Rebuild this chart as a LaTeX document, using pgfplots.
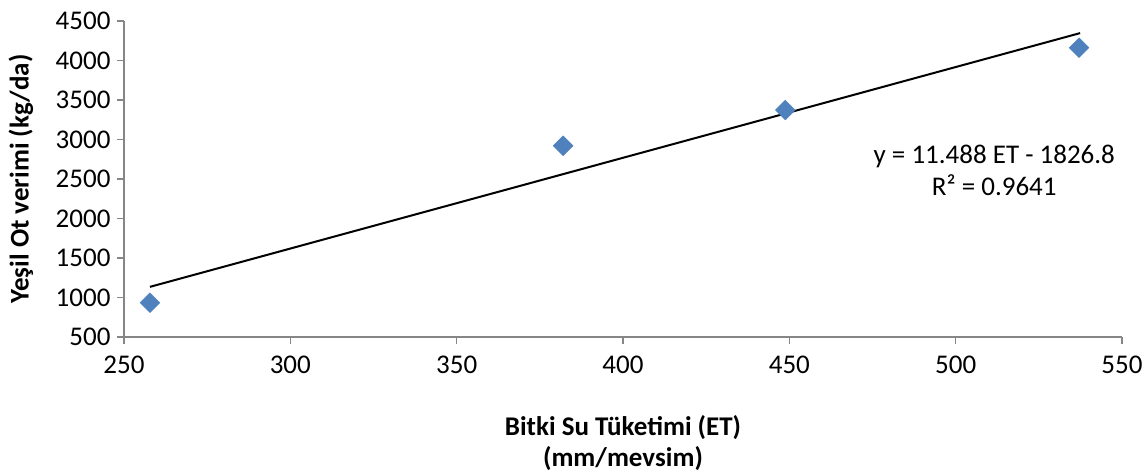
\documentclass[border=0pt]{standalone}
\usepackage{pgfplots}
\pgfplotsset{compat=1.18}
\usepackage{fontspec}
\setmainfont{Carlito}
\definecolor{axgray}{HTML}{868686}
\definecolor{ptblue}{HTML}{4F81BD}
\begin{document}
\begin{tikzpicture}[x=1pt,y=1pt]
\useasboundingbox (-124,-137) rectangle (1023,337);
\begin{axis}[
  at={(0,0)}, anchor=south west,
  scale only axis, width=998pt, height=316pt,
  xmin=250, xmax=550, ymin=500, ymax=4500,
  xtick={250,300,...,550}, ytick={500,1000,...,4500},
  axis x line=bottom, axis y line=left,
  axis line style={-, axgray, line width=1.3pt},
  tick style={axgray, line width=1.3pt},
  tick align=outside, major tick length=7pt,
  /pgf/number format/assume math mode=true,
  /pgf/number format/1000 sep={},
  ticklabel style={font=\fontsize{27}{31}\selectfont},
  xticklabel style={yshift=-8pt},
  yticklabel style={xshift=-3pt},
  every axis y label/.style={at={(axis description cs:-0.1032,0.5)},rotate=90,anchor=center,font=\bfseries\fontsize{27}{31}\selectfont},
  every axis x label/.style={at={(axis description cs:0.5,-0.337)},anchor=center,align=center,font=\bfseries\fontsize{27}{31}\selectfont},
  xlabel={Bitki Su Tüketimi (ET)\\(mm/mevsim)},
  ylabel={Yeşil Ot verimi (kg/da)},
  clip=false,
]
\addplot[only marks, mark=square*, mark size=7pt, mark options={rotate=45, fill=ptblue, draw=ptblue}]
  coordinates {(257.8,934) (382.0,2921) (448.8,3373) (537.1,4162)};
\addplot[black, line width=2pt, mark=none]
  coordinates {(257.8,1134.8) (537.4,4346.8)};
\node[align=center, font=\fontsize{27}{32}\selectfont] at (rel axis cs:0.872,0.528) {y = 11.488 ET - 1826.8\\R² = 0.9641};
\end{axis}
\end{tikzpicture}
\end{document}
